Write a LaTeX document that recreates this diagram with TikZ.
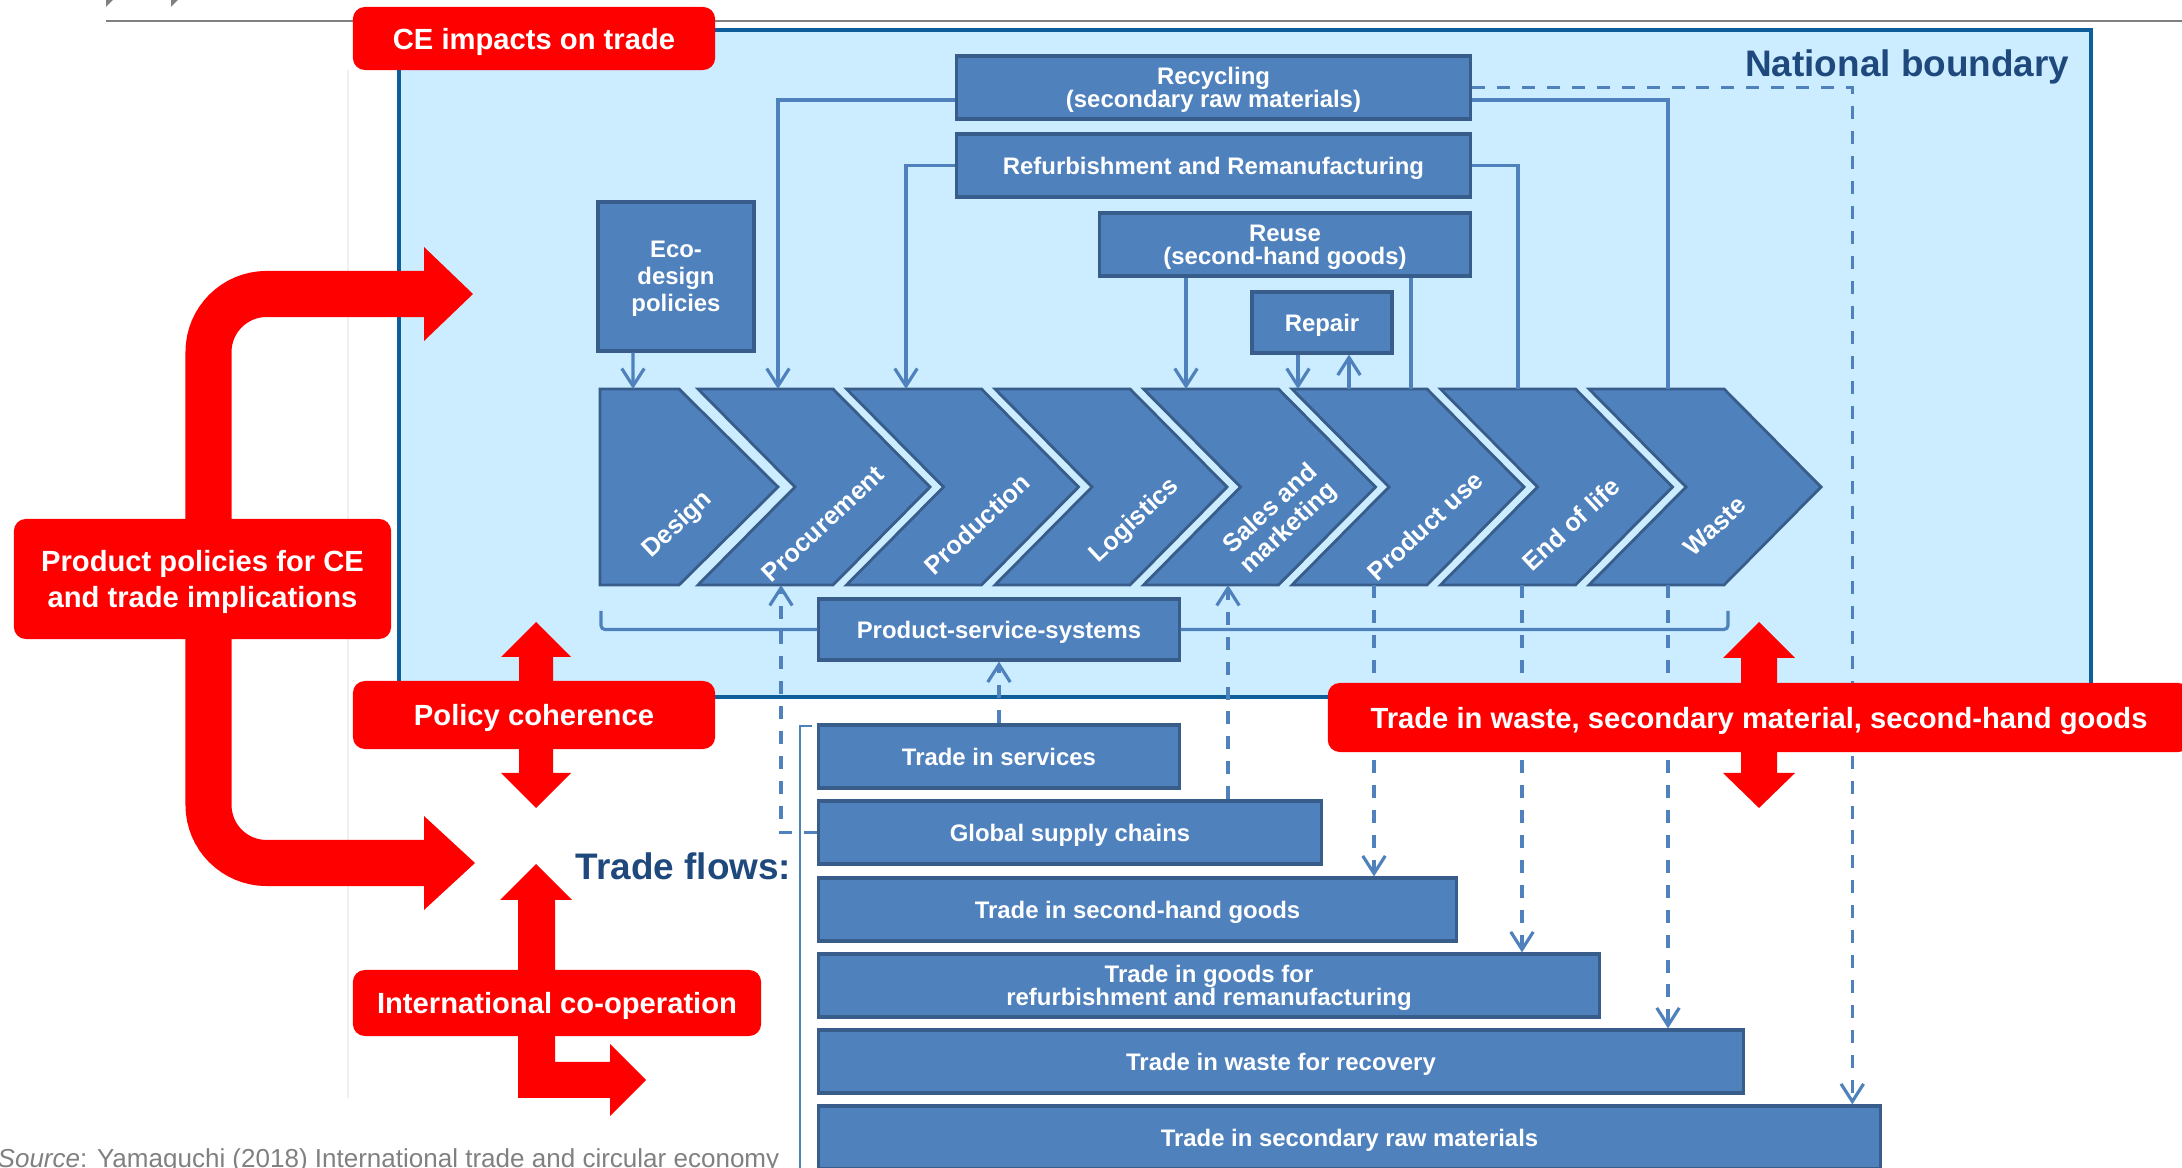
\documentclass[tikz,border=0pt]{standalone}
\usepackage{fontspec}
\setmainfont{Liberation Sans}
\usetikzlibrary{arrows.meta}
\definecolor{bndfill}{HTML}{CCECFF}
\definecolor{bndline}{HTML}{0F5E9C}
\definecolor{boxblue}{HTML}{4F81BD}
\definecolor{boxedge}{HTML}{385D8A}
\definecolor{darkblue}{HTML}{1F497D}
\definecolor{cered}{HTML}{FF0000}
\definecolor{srcgray}{HTML}{808080}
\begin{document}
\begin{tikzpicture}[x=0.01cm, y=-0.01cm,
  blk/.style={draw=boxedge, fill=boxblue, line width=0.9pt, text=white, align=center, inner sep=0pt, text depth=0pt, font=\fontsize{6.8}{6.6}\selectfont\bfseries},
  chev/.style={draw=boxedge, fill=boxblue, line width=0.8pt, line join=miter},
  chevtxt/.style={text=white, rotate=43, align=center, inner sep=0pt, font=\fontsize{7.2}{7.6}\selectfont\bfseries},
  redbox/.style={fill=cered, rounded corners=0.12cm, text=white, align=center, inner sep=0pt, text depth=0pt, font=\fontsize{8.3}{10}\selectfont\bfseries},
  link/.style={draw=boxblue, line width=0.9pt},
  arr/.style={-{Straight Barb[length=5pt,width=6.4pt]}},
  dlink/.style={link, dash pattern=on 3.7pt off 3.4pt},
  ttl/.style={text=darkblue, anchor=base east, inner sep=0pt, font=\fontsize{10.5}{12}\selectfont\bfseries}]
\useasboundingbox (0,0) rectangle (2182,1168);
\draw[black!6] (348,70) -- (348,1098);
\draw[gray, line width=0.6pt] (106,21) -- (2182,21);
\fill[gray] (106,0) -- (113,0) -- (106,7) -- cycle;
\fill[gray] (171,0) -- (178,0) -- (171,7) -- cycle;
% national boundary
\draw[fill=bndfill, draw=bndline, line width=0.9pt] (399,30) rectangle (2091,697);
\node[ttl] (nb) at (2070,77) {National boundary};
% value chain
\draw[chev] (600,389) -- (679,389) -- (778,487) -- (679,585) -- (600,585) -- cycle;
\draw[chev] (698,389) -- (833,389) -- (930,487) -- (833,585) -- (698,585) -- (795,487) -- cycle;
\draw[chev] (846.5,389) -- (981.5,389) -- (1078.5,487) -- (981.5,585) -- (846.5,585) -- (943.5,487) -- cycle;
\draw[chev] (995,389) -- (1130,389) -- (1227,487) -- (1130,585) -- (995,585) -- (1092,487) -- cycle;
\draw[chev] (1143.5,389) -- (1278.5,389) -- (1375.5,487) -- (1278.5,585) -- (1143.5,585) -- (1240.5,487) -- cycle;
\draw[chev] (1292,389) -- (1427,389) -- (1524,487) -- (1427,585) -- (1292,585) -- (1389,487) -- cycle;
\draw[chev] (1440.5,389) -- (1575.5,389) -- (1672.5,487) -- (1575.5,585) -- (1440.5,585) -- (1537.5,487) -- cycle;
\draw[chev] (1589,389) -- (1724,389) -- (1821,487) -- (1724,585) -- (1589,585) -- (1686,487) -- cycle;
\node[chevtxt] (ch1) at (678,525) {Design};
\node[chevtxt] (ch2) at (823,524) {Procurement};
\node[chevtxt] (ch3) at (977,524) {Production};
\node[chevtxt] (ch4) at (1135,521) {Logistics};
\node[chevtxt] (ch5) at (1280,519) {Sales and\\marketing};
\node[chevtxt] (ch6) at (1425,526) {Product use};
\node[chevtxt] (ch7) at (1571,524) {End of life};
\node[chevtxt] (ch8) at (1715,526) {Waste};
\coordinate (tDes) at (633,389);
\coordinate (tPro) at (778,389);
\coordinate (tPrd) at (906,389);
\coordinate (tSal) at (1186,389);
\coordinate (tRin) at (1298,389);
\coordinate (tRout) at (1349,389);
\coordinate (tUse) at (1411,389);
\coordinate (tEnd) at (1518,389);
\coordinate (tWst) at (1668,389);
\coordinate (bPro) at (781,585);
\coordinate (bSal) at (1228,585);
\coordinate (bUse) at (1374,585);
\coordinate (bEnd) at (1522,585);
\coordinate (bWst) at (1668,585);
% loops
\node[blk, minimum width=1.56cm, minimum height=1.49cm, font=\fontsize{6.8}{7.6}\selectfont\bfseries] (eco) at (676,276.5) {Eco-\\design\\policies};
\node[blk, minimum width=5.13cm, minimum height=0.63cm] (rec) at (1213.5,87.5) {Recycling\\(secondary raw materials)};
\node[blk, minimum width=5.13cm, minimum height=0.63cm] (ref) at (1213.5,165.5) {Refurbishment and Remanufacturing};
\node[blk, minimum width=3.70cm, minimum height=0.63cm] (reu) at (1285,244.5) {Reuse\\(second-hand goods)};
\node[blk, minimum width=1.40cm, minimum height=0.61cm] (rep) at (1322,322.5) {Repair};
\draw[link, arr] ([xshift=-0.43cm]eco.south) -- (tDes);
\draw[link, arr] ([yshift=-0.125cm]rec.west) -| (tPro);
\draw[link] ([yshift=-0.125cm]rec.east) -| (tWst);
\draw[link, arr] (ref.west) -| (tPrd);
\draw[link] (ref.east) -| (tEnd);
\draw[link, arr] (reu.south -| tSal) -- (tSal);
\draw[link] (reu.south -| tUse) -- (tUse);
\draw[link, arr] (rep.south -| tRin) -- (tRin);
\draw[link, arr] (tRout) -- (rep.south -| tRout);
% services and trade flows
\coordinate (pssL) at (601,611);
\coordinate (pssR) at (1728,611);
\node[blk, minimum width=3.60cm, minimum height=0.61cm] (pss) at (999,629.5) {Product-service-systems};
\draw[link, rounded corners=0.04cm] (pssL) |- (pss.west);
\draw[link, rounded corners=0.04cm] (pss.east) -| (pssR);
\coordinate (tfl) at (812,726);
\draw[draw=boxblue, line width=0.4pt] (tfl) -- ++(-12,0) -- ++(0,460);
\node[blk, minimum width=3.60cm, minimum height=0.63cm] (tsv) at (999,756.5) {Trade in services};
\node[blk, minimum width=5.02cm, minimum height=0.63cm] (gsc) at (1070,832.5) {Global supply chains};
\node[blk, minimum width=6.37cm, minimum height=0.63cm] (tsh) at (1137.5,909.5) {Trade in second-hand goods};
\node[blk, minimum width=7.80cm, minimum height=0.63cm] (tgr) at (1209,985.5) {Trade in goods for\\refurbishment and remanufacturing};
\node[blk, minimum width=9.24cm, minimum height=0.63cm] (twr) at (1281,1061.5) {Trade in waste for recovery};
\node[blk, minimum width=10.61cm, minimum height=0.63cm] (tsr) at (1349.5,1137.5) {Trade in secondary raw materials};
\draw[dlink, arr] (rec.east) -| ([xshift=5.025cm]tsr.north);
\draw[dlink, arr] (gsc.west) -| (bPro);
\draw[dlink, arr] (gsc.north -| bSal) -- (bSal);
\draw[dlink, arr] (tsv.north) -- (pss.south);
\draw[dlink, arr] (bUse) -- (bUse |- tsh.north);
\draw[dlink, arr] (bEnd) -- (bEnd |- tgr.north);
\draw[dlink, arr] (bWst) -- (bWst |- twr.north);
\node[ttl] (tf) at (792,880) {Trade flows:};
\node[text=srcgray, anchor=base east, inner sep=0pt, font=\fontsize{7.4}{9}\selectfont] (src) at (780,1167) {\textit{Source}: Yamaguchi (2018) International trade and circular economy};
% red arrows
\draw[cered, line width=0.46cm, rounded corners=0.58cm] (426,863) -| (208.5,294) -- (426,294);
\fill[cered] (424,247) -- (473,294) -- (424,341) -- cycle;
\fill[cered] (424,816) -- (475,863) -- (424,910) -- cycle;
\fill[cered] (536,622) -- (571,657) -- (553,657) -- (553,773) -- (571,773) -- (536,808) -- (501,773) -- (519,773) -- (519,657) -- (501,657) -- cycle;
\fill[cered] (536,864) -- (572,900) -- (555,900) -- (555,1062) -- (610,1062) -- (610,1044) -- (646,1080) -- (610,1116) -- (610,1098) -- (518,1098) -- (518,900) -- (500,900) -- cycle;
\fill[cered] (1759,622) -- (1795,658) -- (1777,658) -- (1777,773) -- (1795,773) -- (1759,808) -- (1723,773) -- (1741,773) -- (1741,658) -- (1723,658) -- cycle;
\node[redbox, minimum width=3.62cm, minimum height=0.63cm] (rce) at (534,38.5) {CE impacts on trade};
\node[redbox, minimum width=3.77cm, minimum height=1.20cm] (rpp) at (202.5,579) {Product policies for CE\\and trade implications};
\node[redbox, minimum width=3.62cm, minimum height=0.68cm] (rpc) at (534,715) {Policy coherence};
\node[redbox, minimum width=4.08cm, minimum height=0.66cm] (ric) at (557,1003) {International co-operation};
\node[redbox, minimum width=8.62cm, minimum height=0.69cm] (rtw) at (1759,717.5) {Trade in waste, secondary material, second-hand goods};
\end{tikzpicture}
\end{document}
